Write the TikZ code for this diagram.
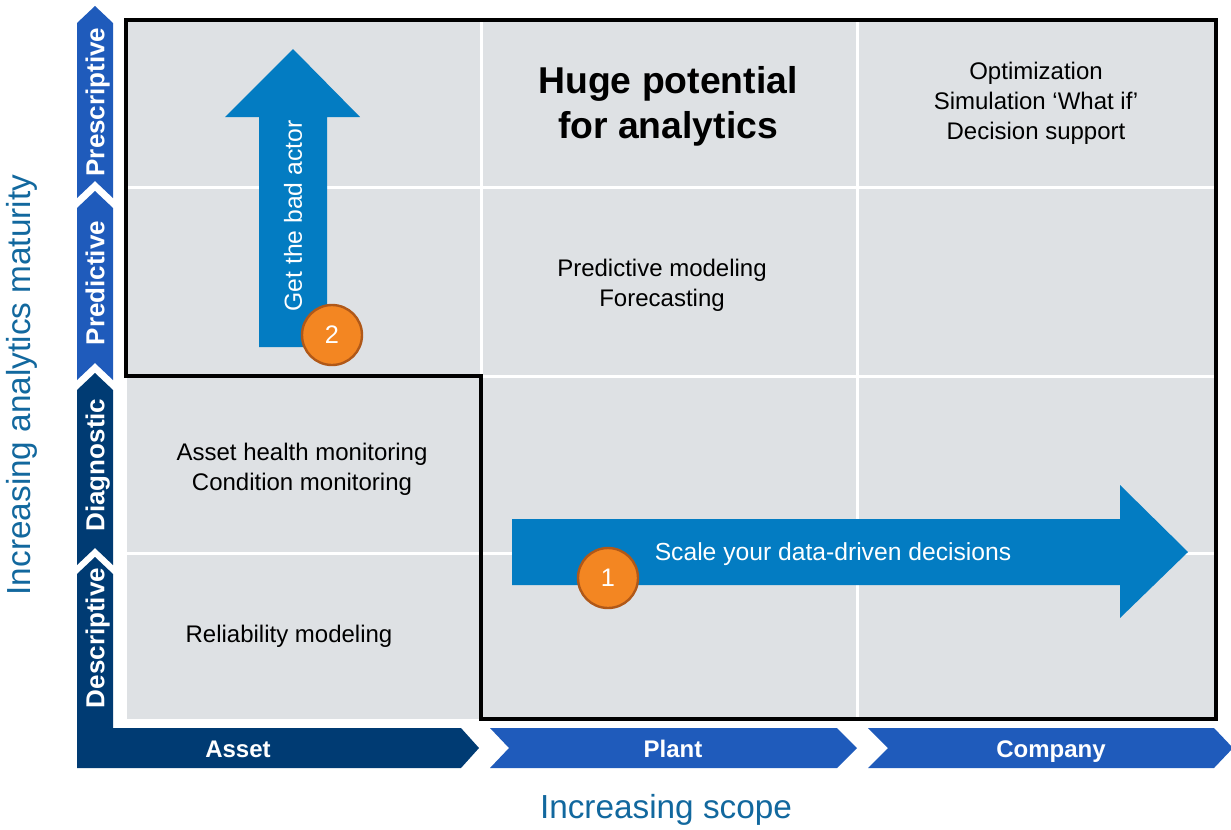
\documentclass[tikz,border=0pt]{standalone}
\usepackage{fontspec}
\setmainfont{Liberation Sans}
\usetikzlibrary{positioning}
\definecolor{navy}{RGB}{0,59,115}
\definecolor{royal}{RGB}{31,91,187}
\definecolor{arrowblue}{RGB}{3,124,194}
\definecolor{cellgray}{RGB}{222,225,228}
\definecolor{labelblue}{RGB}{18,104,158}
\definecolor{badgefill}{RGB}{243,134,34}
\definecolor{badgeline}{RGB}{176,88,24}

\begin{document}
\begin{tikzpicture}[x=0.75pt, y=-0.75pt,
  cell/.style={align=center, font=\fontsize{18pt}{22.5pt}\selectfont},
  stage/.style={rotate=90, text=white, text height=14pt, text depth=0pt, font=\bfseries\fontsize{19.5pt}{24pt}\selectfont},
  scopelabel/.style={text=white, text height=13pt, text depth=0pt, font=\bfseries\fontsize{18pt}{22pt}\selectfont},
  badge/.style={circle, fill=badgefill, draw=badgeline, line width=1.8pt, minimum size=45pt, inner sep=0pt, text=white, font=\fontsize{19pt}{19pt}\selectfont},
  axislabel/.style={text=labelblue, font=\fontsize{25pt}{30pt}\selectfont},
  inarrow/.style={text=white, font=\fontsize{18.5pt}{22pt}\selectfont}]
\useasboundingbox (0,0) rectangle (1231,829);
\fill[cellgray] (127,20) rectangle (1216,719);
\draw[white, line width=2.25pt] (481,20) -- (481,719) (857,20) -- (857,719)
  (127,187) -- (1216,187) (127,376) -- (1216,376) (127,553) -- (1216,553);
\draw[line width=2.5pt] (126,20) -- (1216,20) -- (1216,719) -- (481,719) -- (481,376) -- (126,376) -- cycle;

% maturity axis
\fill[royal] (95,6) -- (113,23) -- (113,198) -- (95,181) -- (77,198) -- (77,23) -- cycle;
\fill[royal] (95,191) -- (113,208) -- (113,380) -- (95,363) -- (77,380) -- (77,208) -- cycle;
\fill[navy] (95,373) -- (113,390) -- (113,565) -- (95,548) -- (77,565) -- (77,390) -- cycle;
\fill[navy] (95,557) -- (113,574) -- (113,728) -- (461,728) -- (479,748) -- (461,768) -- (77,768) -- (77,574) -- cycle;
% scope axis
\fill[royal] (490,728) -- (837,728) -- (857,748) -- (837,768) -- (490,768) -- (509,748) -- cycle;
\fill[royal] (868,728) -- (1214,728) -- (1233,748) -- (1214,768) -- (868,768) -- (888,748) -- cycle;

\node[stage] (presc) at (95,102) {Prescriptive};
\node[stage] (pred) at (95,283) {Predictive};
\node[stage] (diag) at (95,465) {Diagnostic};
\node[stage] (desc) at (95,638) {Descriptive};
\node[scopelabel] (asset) at (238,749) {Asset};
\node[scopelabel] (plant) at (673,749) {Plant};
\node[scopelabel] (company) at (1051,749) {Company};

\node[axislabel, rotate=90] (maturity) at (22,385) {Increasing analytics maturity};
\node[axislabel] (scope) at (666,810) {Increasing scope};

\node[cell, font=\bfseries\fontsize{28pt}{33.75pt}\selectfont] (huge) at (668,106) {Huge potential\\for analytics};
\node[cell] (optim) at (1036,103) {Optimization\\Simulation `What if'\\Decision support};
\node[cell] (model) at (662,285) {Predictive modeling\\Forecasting};
\node[cell] (health) at (302,469) {Asset health monitoring\\Condition monitoring};
\node[cell] (reliab) at (289,636) {Reliability modeling};

% big arrows
\fill[arrowblue] (259,347) -- (259,117) -- (225,117) -- (293,49) -- (360,117) -- (327,117) -- (327,347) -- cycle;
\fill[arrowblue] (512,519) -- (1120,519) -- (1120,485) -- (1188,552) -- (1120,618) -- (1120,585) -- (512,585) -- cycle;
\node[inarrow, rotate=90] (bad) at (293,216) {Get the bad actor};
\node[inarrow] (scale) at (833,554) {Scale your data-driven decisions};
\node[badge] (one) at (608,578) {1};
\node[badge] (two) at (332,335) {2};
\end{tikzpicture}
\end{document}
